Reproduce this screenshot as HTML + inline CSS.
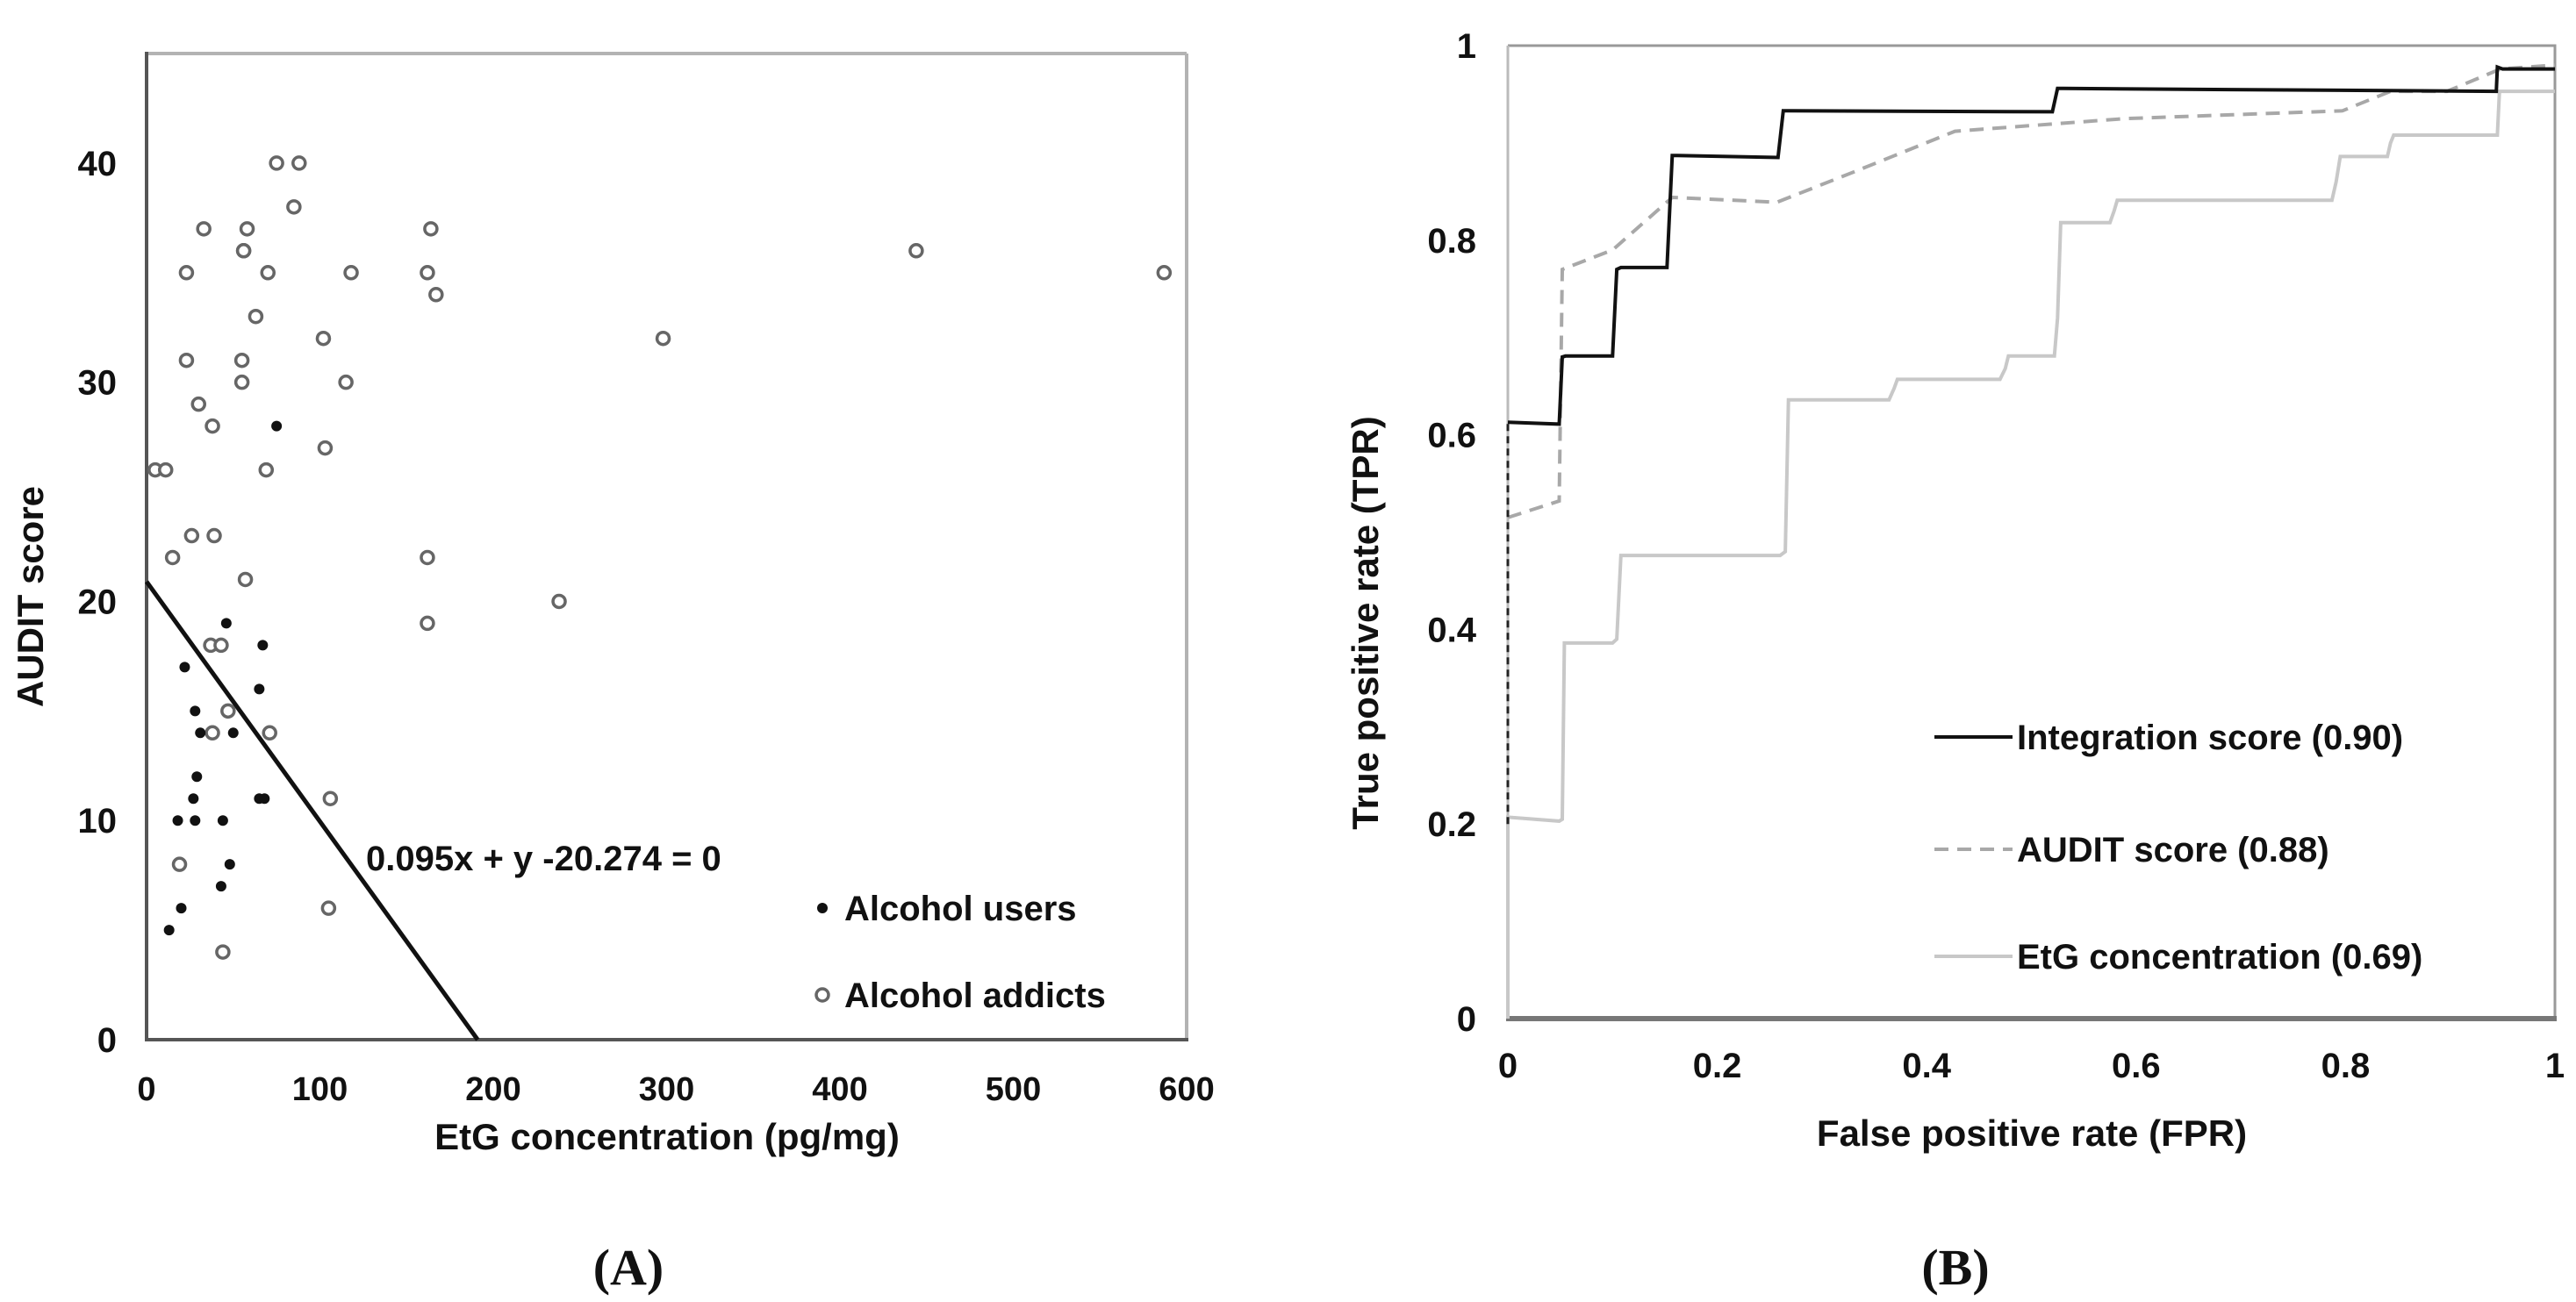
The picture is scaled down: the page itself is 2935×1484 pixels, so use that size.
<!DOCTYPE html>
<html><head><meta charset="utf-8">
<style>
html,body{margin:0;padding:0;background:#fff;}
svg{display:block;}
text{font-family:"Liberation Sans",Arial,sans-serif;font-weight:bold;fill:#111;}
.cap{font-family:"Liberation Serif",serif;font-weight:bold;}
</style></head>
<body>
<svg id="svg" width="2935" height="1484" viewBox="0 0 2935 1484" xmlns="http://www.w3.org/2000/svg">
<g id="pa"></g>
<g id="pb"></g>
</svg>
<script>
// ---------- Panel A data ----------
const addictX = [75,88,85,33,58,164,56,444,23,70,118,162,587,167,63,102,298,23,55,55,115,30,38,103,5,11,69,26,39,15,162,57,238,162,37,43,47,38,71,106,19,105,44,56];
const addictY = [40,40,38,37,37,37,36,36,35,35,35,35,35,34,33,32,32,31,31,30,30,29,28,27,26,26,26,23,23,22,22,21,20,19,18,18,15,14,14,11,8,6,4,36];
const userX = [75,46,22,67,65,28,31,50,29,27,65,68,18,28,44,48,43,20,13];
const userY = [28,19,17,18,16,15,14,14,12,11,11,11,10,10,10,8,7,6,5];
const lineX = [0,191];
const lineY = [20.9,0];
const aXTicks = [0,100,200,300,400,500,600];
const aYTicks = [0,10,20,30,40];
// ---------- Panel B data ----------
const intX = [0,0.049,0.052,0.055,0.1,0.104,0.108,0.152,0.157,0.162,0.258,0.263,0.268,0.52,0.525,0.53,0.944,0.945,0.95,1];
const intY = [0.613,0.611,0.68,0.681,0.681,0.77,0.772,0.772,0.887,0.887,0.885,0.933,0.933,0.932,0.956,0.956,0.953,0.978,0.976,0.976];
const auditX = [0,0.049,0.052,0.1,0.157,0.257,0.33,0.427,0.589,0.797,0.843,0.897,0.948,1];
const auditY = [0.515,0.532,0.77,0.79,0.844,0.839,0.87,0.912,0.925,0.933,0.953,0.953,0.976,0.98];
const etgX = [0,0,0.049,0.052,0.054,0.1,0.104,0.108,0.26,0.265,0.268,0.364,0.369,0.372,0.47,0.475,0.478,0.522,0.525,0.528,0.575,0.579,0.582,0.787,0.791,0.795,0.84,0.843,0.846,0.945,0.947,0.95,1];
const etgY = [0,0.207,0.203,0.205,0.386,0.386,0.39,0.476,0.476,0.48,0.636,0.636,0.648,0.657,0.657,0.668,0.681,0.681,0.72,0.818,0.818,0.83,0.841,0.841,0.86,0.886,0.886,0.9,0.908,0.908,0.953,0.953,0.953];
const bTicks = [0,0.2,0.4,0.6,0.8,1];
const bTickLabels = ["0","0.2","0.4","0.6","0.8","1"];
const legendLabels = ["Integration score (0.90)","AUDIT score (0.88)","EtG concentration (0.69)"];

const NS="http://www.w3.org/2000/svg";
function mk(parent,tag,attrs,txt){const e=document.createElementNS(NS,tag);for(const k in attrs)e.setAttribute(k,attrs[k]);if(txt!==undefined)e.textContent=txt;parent.appendChild(e);return e;}

// axes A
const A={x0:167,x1:1352,y0:1185,y1:61,xmin:0,xmax:600,ymin:0,ymax:45};
const ax=v=>A.x0+(v-A.xmin)/(A.xmax-A.xmin)*(A.x1-A.x0);
const ay=v=>A.y0-(v-A.ymin)/(A.ymax-A.ymin)*(A.y0-A.y1);
const pa=document.getElementById('pa');
let e;
e=mk(pa,'line',{x1:A.x0,y1:A.y1,x2:A.x1,y2:A.y1,stroke:'#b3b3b3','stroke-width':4});


e=mk(pa,'line',{x1:A.x1,y1:A.y1,x2:A.x1,y2:A.y0,stroke:'#b3b3b3','stroke-width':4});


e=mk(pa,'line',{x1:A.x0,y1:A.y1-2,x2:A.x0,y2:A.y0+2,stroke:'#555','stroke-width':4});


e=mk(pa,'line',{x1:A.x0,y1:A.y0,x2:A.x1+2,y2:A.y0,stroke:'#555','stroke-width':4});


aYTicks.forEach(t=>{e=mk(pa,'text',{x:133,y:ay(t)+14,'text-anchor':'end','font-size':40},String(t));

});
aXTicks.forEach(t=>{e=mk(pa,'text',{x:ax(t),y:1254,'text-anchor':'middle','font-size':38},String(t));

});
e=mk(pa,'text',{x:760,y:1310,'text-anchor':'middle','font-size':42},'EtG concentration (pg/mg)');


e=mk(pa,'text',{x:0,y:0,'text-anchor':'middle','font-size':42,transform:'translate(49,680) rotate(-90)'},'AUDIT score');


e=mk(pa,'line',{x1:ax(lineX[0]),y1:ay(lineY[0]),x2:ax(lineX[1]),y2:ay(lineY[1]),stroke:'#111','stroke-width':5});


e=mk(pa,'text',{x:417,y:992,'font-size':40},'0.095x + y -20.274 = 0');


addictX.forEach((v,i)=>{e=mk(pa,'circle',{cx:ax(v),cy:ay(addictY[i]),r:7,fill:'#fff',stroke:'#666','stroke-width':3.5});

});
userX.forEach((v,i)=>{e=mk(pa,'circle',{cx:ax(v),cy:ay(userY[i]),r:6,fill:'#111'});

});
e=mk(pa,'circle',{cx:937,cy:1035,r:6,fill:'#111'});


e=mk(pa,'text',{x:962,y:1049,'font-size':40},'Alcohol users');


e=mk(pa,'circle',{cx:937,cy:1134,r:7,fill:'#fff',stroke:'#666','stroke-width':3.5});


e=mk(pa,'text',{x:962,y:1148,'font-size':40},'Alcohol addicts');


e=mk(pa,'text',{x:716,y:1464,'text-anchor':'middle','font-size':58,'class':'cap'},'(A)');



// axes B
const B={x0:1718,x1:2911,y0:1161,y1:52};
const bx=v=>B.x0+v*(B.x1-B.x0);
const by=v=>B.y0-v*(B.y0-B.y1);
const pb=document.getElementById('pb');
e=mk(pb,'path',{d:`M${B.x0},${B.y1}H${B.x1}V${B.y0}`,fill:'none',stroke:'#999','stroke-width':3});


e=mk(pb,'line',{x1:B.x0,y1:B.y1,x2:B.x0,y2:B.y0,stroke:'#bbb','stroke-width':3});


e=mk(pb,'line',{x1:B.x0-2,y1:B.y0,x2:B.x1+2,y2:B.y0,stroke:'#777','stroke-width':6});


bTicks.forEach((t,i)=>{e=mk(pb,'text',{x:1682,y:by(t)+14,'text-anchor':'end','font-size':40},bTickLabels[i]);


e=mk(pb,'text',{x:bx(t),y:1228,'text-anchor':'middle','font-size':40},bTickLabels[i]);

});
e=mk(pb,'text',{x:2315,y:1306,'text-anchor':'middle','font-size':42},'False positive rate (FPR)');


e=mk(pb,'text',{x:0,y:0,'text-anchor':'middle','font-size':42,transform:'translate(1570,710) rotate(-90)'},'True positive rate (TPR)');


function pathOf(xs,ys){return xs.map((v,i)=>(i?'L':'M')+bx(v).toFixed(1)+','+by(ys[i]).toFixed(1)).join('');}
e=mk(pb,'path',{d:pathOf(etgX,etgY),fill:'none',stroke:'#c8c8c8','stroke-width':4});


e=mk(pb,'path',{d:pathOf(auditX,auditY),fill:'none',stroke:'#a8a8a8','stroke-width':4,'stroke-dasharray':'16,10'});


e=mk(pb,'line',{x1:bx(0),y1:by(0.2),x2:bx(0),y2:by(intY[0]),stroke:'#222','stroke-width':3,'stroke-dasharray':'8,6'});


e=mk(pb,'path',{d:pathOf(intX,intY),fill:'none',stroke:'#111','stroke-width':4});


const legY=[840,968,1090];
const legStyle=[{stroke:'#111'},{stroke:'#a8a8a8','stroke-dasharray':'16,10'},{stroke:'#c8c8c8'}];
legendLabels.forEach((lab,i)=>{
 const a=Object.assign({x1:2204,y1:legY[i],x2:2293,y2:legY[i],'stroke-width':4},legStyle[i]);
 e=mk(pb,'line',a);
 
 
 e=mk(pb,'text',{x:2298,y:legY[i]+14,'font-size':40},lab);
 
 
});
e=mk(pb,'text',{x:2228,y:1464,'text-anchor':'middle','font-size':58,'class':'cap'},'(B)');


</script>
</body></html>
